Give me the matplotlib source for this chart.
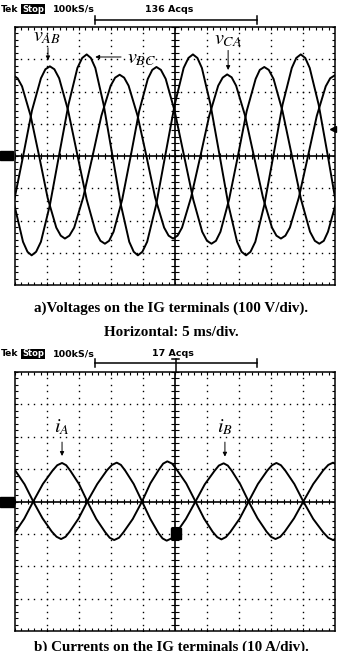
import matplotlib
matplotlib.use('Agg')
import matplotlib.pyplot as plt
from matplotlib.lines import Line2D
from matplotlib.patches import Rectangle

plt.rcParams['mathtext.fontset'] = 'stix'

W, H = 342, 651

# a) line voltages (time in div, amplitude in div)
vab_x = [-0.58, -0.44, -0.30, -0.02, 0.26, 0.53, 0.81, 0.95,
         1.09, 1.23, 1.38, 1.66, 1.95, 2.24, 2.52, 2.67,
         2.81, 2.94, 3.08, 3.35, 3.62, 3.88, 4.15, 4.29,
         4.42, 4.56, 4.71, 4.99, 5.28, 5.57, 5.85, 6.00,
         6.14, 6.28, 6.42, 6.69, 6.97, 7.24, 7.52, 7.65,
         7.79, 7.93, 8.08, 8.36, 8.65, 8.94, 9.22, 9.37,
         9.51, 9.65, 9.78, 10.06, 10.33]
vab_y = [-2.72, -2.63, -2.35, -1.35, 0.03, 1.41, 2.41, 2.69,
         2.78, 2.69, 2.41, 1.41, 0.03, -1.35, -2.35, -2.63,
         -2.72, -2.63, -2.35, -1.35, 0.02, 1.39, 2.39, 2.67,
         2.76, 2.67, 2.39, 1.39, 0.02, -1.35, -2.35, -2.63,
         -2.72, -2.63, -2.35, -1.35, 0.02, 1.39, 2.39, 2.67,
         2.76, 2.67, 2.39, 1.39, 0.02, -1.35, -2.35, -2.63,
         -2.72, -2.63, -2.35, -1.35, 0.03]

vbc_x = [-1.10, -0.97, -0.83, -0.56, -0.29, -0.02, 0.25, 0.39,
         0.52, 0.66, 0.81, 1.09, 1.38, 1.67, 1.95, 2.10,
         2.24, 2.37, 2.51, 2.77, 3.04, 3.31, 3.57, 3.71,
         3.84, 3.98, 4.13, 4.41, 4.70, 4.99, 5.27, 5.42,
         5.56, 5.70, 5.84, 6.11, 6.39, 6.67, 6.94, 7.08,
         7.22, 7.36, 7.51, 7.79, 8.08, 8.36, 8.65, 8.79,
         8.93, 9.07, 9.21, 9.49, 9.77, 10.04, 10.32]
vbc_y = [3.15, 3.04, 2.73, 1.59, 0.04, -1.52, -2.66, -2.97,
         -3.08, -2.97, -2.66, -1.52, 0.04, 1.59, 2.73, 3.04,
         3.15, 3.04, 2.73, 1.59, 0.04, -1.52, -2.66, -2.97,
         -3.08, -2.97, -2.66, -1.52, 0.04, 1.59, 2.73, 3.04,
         3.15, 3.04, 2.73, 1.59, 0.04, -1.52, -2.66, -2.97,
         -3.08, -2.97, -2.66, -1.52, 0.04, 1.59, 2.73, 3.04,
         3.15, 3.04, 2.73, 1.59, 0.04, -1.52, -2.66]

vca_x = [-0.05, 0.08, 0.22, 0.49, 0.76, 1.02, 1.29, 1.43,
         1.56, 1.70, 1.85, 2.13, 2.42, 2.70, 2.99, 3.13,
         3.27, 3.41, 3.55, 3.83, 4.11, 4.38, 4.66, 4.80,
         4.94, 5.08, 5.22, 5.50, 5.79, 6.07, 6.35, 6.49,
         6.63, 6.77, 6.91, 7.19, 7.47, 7.75, 8.03, 8.17,
         8.31, 8.45, 8.59, 8.87, 9.15, 9.43, 9.71, 9.85,
         9.99, 10.13, 10.27]
vca_y = [2.50, 2.41, 2.16, 1.24, -0.03, -1.30, -2.22, -2.47,
         -2.56, -2.47, -2.22, -1.29, -0.02, 1.25, 2.18, 2.43,
         2.52, 2.43, 2.18, 1.25, -0.02, -1.29, -2.22, -2.47,
         -2.56, -2.47, -2.22, -1.29, -0.02, 1.25, 2.18, 2.43,
         2.53, 2.44, 2.18, 1.25, -0.02, -1.29, -2.22, -2.47,
         -2.56, -2.47, -2.22, -1.29, -0.03, 1.24, 2.16, 2.41,
         2.50, 2.41, 2.16]

# b) phase currents
ia_x = [-0.27, -0.13, 0.01, 0.29, 0.57, 0.87, 1.17, 1.32, 1.47, 1.60, 1.73,
        2.00, 2.26, 2.54, 2.82, 2.96, 3.10, 3.25, 3.39, 3.68, 3.97, 4.23,
        4.50, 4.63, 4.76, 4.91, 5.05, 5.35, 5.64, 5.91, 6.18, 6.32, 6.45,
        6.59, 6.73, 7.02, 7.30, 7.59, 7.88, 8.03, 8.17, 8.31, 8.45, 8.73,
        9.01, 9.32, 9.63, 9.79, 9.94, 10.08, 10.22]
ia_y = [-1.18, -1.11, -0.94, -0.53, 0.00, 0.54, 0.95, 1.12, 1.19, 1.12, 0.95,
        0.54, 0.00, -0.54, -0.95, -1.12, -1.19, -1.12, -0.95, -0.54, 0.00, 0.56,
        0.99, 1.17, 1.24, 1.17, 0.99, 0.56, 0.00, -0.53, -0.94, -1.10, -1.17,
        -1.10, -0.94, -0.53, 0.00, 0.54, 0.95, 1.12, 1.19, 1.12, 0.95, 0.54,
        0.00, -0.54, -0.95, -1.12, -1.19, -1.12, -0.95]

ib_x = [-0.25, -0.11, 0.02, 0.30, 0.57, 0.86, 1.15, 1.30, 1.44, 1.58, 1.71,
        1.99, 2.26, 2.57, 2.87, 3.03, 3.18, 3.31, 3.44, 3.71, 3.97, 4.23,
        4.48, 4.61, 4.74, 4.89, 5.04, 5.34, 5.64, 5.93, 6.23, 6.37, 6.52,
        6.65, 6.78, 7.04, 7.30, 7.58, 7.86, 8.00, 8.14, 8.29, 8.43, 8.72,
        9.01, 9.32, 9.63, 9.79, 9.94, 10.08, 10.22]
ib_y = [1.18, 1.11, 0.94, 0.53, 0.00, -0.52, -0.93, -1.09, -1.16, -1.09, -0.93,
        -0.52, 0.00, 0.54, 0.96, 1.13, 1.20, 1.13, 0.96, 0.54, 0.00, -0.54,
        -0.97, -1.14, -1.21, -1.14, -0.97, -0.54, 0.00, 0.53, 0.94, 1.11, 1.18,
        1.11, 0.94, 0.53, 0.00, -0.52, -0.93, -1.09, -1.16, -1.09, -0.93,
        -0.52, 0.00, 0.54, 0.96, 1.13, 1.20, 1.13, 0.96]

acqs = ['136 Acqs', '17 Acqs']
captions = ['a)Voltages on the IG terminals (100 V/div).',
            'Horizontal: 5 ms/div.',
            'b) Currents on the IG terminals (10 A/div).']


def fx(px):
    return px / W


def fy(py):
    return 1 - py / H


def graticule(ax):
    ax.set_xlim(0, 10)
    ax.set_ylim(-4, 4)
    ax.set_xticks([])
    ax.set_yticks([])
    for s in ax.spines.values():
        s.set_linewidth(1.1)
    xs = [i * 0.2 for i in range(51)]
    ys = [-4 + i * 0.2 for i in range(41)]
    for gx in range(1, 10):
        if gx != 5:
            ax.plot([gx] * len(ys), ys, ls='none', marker='s', ms=1.0,
                    mew=0, color='k')
    for gy in range(-3, 4):
        if gy != 0:
            ax.plot(xs, [gy] * len(xs), ls='none', marker='s', ms=1.0,
                    mew=0, color='k')
    ax.axhline(0, color='k', lw=1.2)
    ax.axvline(5, color='k', lw=1.2)
    ax.vlines(xs, -0.08, 0.08, color='k', lw=0.8)
    ax.hlines(ys, 4.88, 5.12, color='k', lw=0.8)
    ax.vlines(xs, 3.9, 4, color='k', lw=0.8)
    ax.vlines(xs, -4, -3.9, color='k', lw=0.8)
    ax.hlines(ys, 0, 0.1, color='k', lw=0.8)
    ax.hlines(ys, 9.9, 10, color='k', lw=0.8)


def header(ytxt, ybr, label, xlabel):
    fig.text(fx(0.5), fy(ytxt), 'Tek', fontsize=6.6, fontweight='bold',
             va='center', ha='left')
    fig.text(fx(22), fy(ytxt), 'Stop', fontsize=6, fontweight='bold',
             color='white', va='center', ha='left',
             bbox=dict(facecolor='black', edgecolor='none', pad=0.5))
    fig.text(fx(53), fy(ytxt), '100kS/s', fontsize=6.8, fontweight='bold',
             va='center', ha='left')
    fig.text(fx(xlabel), fy(ytxt), label, fontsize=6.8, fontweight='bold',
             va='center', ha='center')
    fig.add_artist(Line2D([fx(95), fx(257)], [fy(ybr), fy(ybr)],
                          color='k', lw=1.1))
    for bx in (95, 257):
        fig.add_artist(Line2D([fx(bx), fx(bx)], [fy(ybr - 4), fy(ybr + 4)],
                              color='k', lw=1.1))


fig = plt.figure(figsize=(W / 100, H / 100), dpi=100)

# ---- panel a
ax1 = fig.add_axes([fx(15), fy(285), (335 - 15) / W, (285 - 27) / H])
graticule(ax1)
for xs_, ys_ in ((vab_x, vab_y), (vbc_x, vbc_y), (vca_x, vca_y)):
    ax1.plot(xs_, ys_, color='k', lw=1.4, solid_joinstyle='round')
header(9, 20, acqs[0], 169)

arr = dict(arrowstyle='-|>', color='k', lw=0.7, mutation_scale=6)
ax1.text(1.0, 3.72, r'$v_{AB}$', fontsize=14.5, ha='center', va='center')
ax1.annotate('', xy=(1.03, 2.88), xytext=(1.03, 3.44), arrowprops=arr)
ax1.text(3.95, 3.02, r'$v_{BC}$', fontsize=14.5, ha='center', va='center')
ax1.annotate('', xy=(2.42, 3.07), xytext=(3.40, 3.07), arrowprops=arr)
ax1.text(6.66, 3.62, r'$v_{CA}$', fontsize=14.5, ha='center', va='center')
ax1.annotate('', xy=(6.66, 2.58), xytext=(6.66, 3.36), arrowprops=arr)

fig.add_artist(Rectangle((fx(0), fy(160)), fx(13), 9 / H, color='k'))
ax1.plot([9.93], [0.83], marker='<', ms=4, color='k', clip_on=False)

# ---- panel b
ax2 = fig.add_axes([fx(15), fy(631), (335 - 15) / W, (631 - 372) / H])
graticule(ax2)
for xs_, ys_ in ((ia_x, ia_y), (ib_x, ib_y)):
    ax2.plot(xs_, ys_, color='k', lw=1.4, solid_joinstyle='round')
header(354, 363, acqs[1], 173)
fig.add_artist(Line2D([fx(175.5), fx(175.5)], [fy(359), fy(372)],
                      color='k', lw=1.1))
fig.add_artist(Line2D([fx(172), fx(179)], [fy(359), fy(359)],
                      color='k', lw=1.1))

ax2.text(1.47, 2.3, r'$i_{A}$', fontsize=14.5, ha='center', va='center')
ax2.annotate('', xy=(1.47, 1.32), xytext=(1.47, 1.92), arrowprops=arr)
ax2.text(6.56, 2.3, r'$i_{B}$', fontsize=14.5, ha='center', va='center')
ax2.annotate('', xy=(6.56, 1.3), xytext=(6.56, 1.92), arrowprops=arr)

fig.add_artist(Rectangle((fx(0), fy(507)), fx(14), 10 / H, color='k'))
fig.add_artist(Rectangle((fx(171), fy(539)), fx(10), 11 / H, color='k'))

# ---- captions (the last one is cut by the page edge in the original too)
fig.text(0.5, fy(308), captions[0], family='Liberation Serif',
         fontweight='bold', fontsize=10.8, ha='center', va='center')
fig.text(0.5, fy(332), captions[1], family='Liberation Serif',
         fontweight='bold', fontsize=10.8, ha='center', va='center')
fig.text(0.5, fy(647), captions[2], family='Liberation Serif',
         fontweight='bold', fontsize=10.8, ha='center', va='center')

fig.savefig('out.png', dpi=100)
